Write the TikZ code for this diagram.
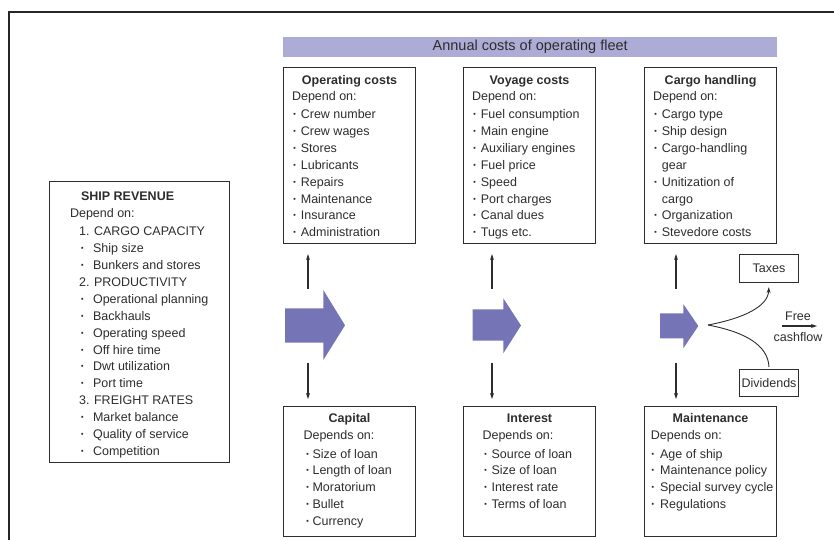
\documentclass[tikz,border=0pt]{standalone}
\usepackage{fontspec}
\setmainfont{Liberation Sans}
\usepackage{xcolor}
\usepackage{tikz}
\usetikzlibrary{positioning,arrows.meta}

\definecolor{barblue}{RGB}{172,172,214}
\definecolor{flowblue}{RGB}{116,116,182}
\definecolor{inkgray}{RGB}{45,45,45}

\newcommand{\bitem}[3]{\hspace*{#1}\makebox[#2][l]{\textbf{·}}#3}

\tikzset{
    box/.style={draw=inkgray, line width=1.1pt, inner sep=0pt, anchor=north west, text=inkgray, font=\fontsize{12.5}{16.9}\selectfont},
    conn/.style={draw=inkgray, line width=1.1pt, -{Stealth[length=6pt,width=4pt]}},
    flow/.style={fill=flowblue}
}

\begin{document}
\begin{tikzpicture}[x=1pt,y=-1pt]
    \useasboundingbox (0,0) rectangle (834,539);
    \draw[line width=2pt, black!85] (9,545) -- (9,12) -- (840,12);

    \node(fleet) [fill=barblue, anchor=north west, inner sep=0pt, minimum width=494pt, minimum height=20pt, text=inkgray, font=\fontsize{14.5}{17}\selectfont] at (283,37) {Annual costs of operating fleet};

    \node(revenue) [box] at (48.5,181) {\parbox[t][281pt][t]{180pt}{\raggedright
        \hspace*{32pt}\rule{0pt}{18.5pt}\textbf{SHIP REVENUE}\\[0.4pt]
        \hspace*{21pt}Depend on:\\[1.5pt]
        \hspace*{30pt}1. CARGO CAPACITY\\
        \bitem{31.6pt}{12.4pt}{Ship size}\\
        \bitem{31.6pt}{12.4pt}{Bunkers and stores}\\
        \hspace*{30pt}2. PRODUCTIVITY\\
        \bitem{31.6pt}{12.4pt}{Operational planning}\\
        \bitem{31.6pt}{12.4pt}{Backhauls}\\
        \bitem{31.6pt}{12.4pt}{Operating speed}\\
        \bitem{31.6pt}{12.4pt}{Off hire time}\\
        \bitem{31.6pt}{12.4pt}{Dwt utilization}\\
        \bitem{31.6pt}{12.4pt}{Port time}\\
        \hspace*{30pt}3. FREIGHT RATES\\
        \bitem{31.6pt}{12.4pt}{Market balance}\\
        \bitem{31.6pt}{12.4pt}{Quality of service}\\
        \bitem{31.6pt}{12.4pt}{Competition}}};

    % costs of the fleet, top row
    \node(opcost) [box] at (283,67) {\parbox[t][176pt][t]{132pt}{
        {\centering\rule{0pt}{17pt}\textbf{Operating costs}\par}
        \vspace{-1.2pt}\raggedright
        \hspace*{8.5pt}Depend on:\\[1.4pt]
        \bitem{9.3pt}{8pt}{Crew number}\\
        \bitem{9.3pt}{8pt}{Crew wages}\\
        \bitem{9.3pt}{8pt}{Stores}\\
        \bitem{9.3pt}{8pt}{Lubricants}\\
        \bitem{9.3pt}{8pt}{Repairs}\\
        \bitem{9.3pt}{8pt}{Maintenance}\\
        \bitem{9.3pt}{8pt}{Insurance}\\
        \bitem{9.3pt}{8pt}{Administration}}};

    \node(voyage) [box] at (463,67) {\parbox[t][176pt][t]{132pt}{
        {\centering\rule{0pt}{17pt}\textbf{Voyage costs}\par}
        \vspace{-1.2pt}\raggedright
        \hspace*{8.5pt}Depend on:\\[1.4pt]
        \bitem{9.3pt}{8pt}{Fuel consumption}\\
        \bitem{9.3pt}{8pt}{Main engine}\\
        \bitem{9.3pt}{8pt}{Auxiliary engines}\\
        \bitem{9.3pt}{8pt}{Fuel price}\\
        \bitem{9.3pt}{8pt}{Speed}\\
        \bitem{9.3pt}{8pt}{Port charges}\\
        \bitem{9.3pt}{8pt}{Canal dues}\\
        \bitem{9.3pt}{8pt}{Tugs etc.}}};

    \node(handling) [box] at (644,67) {\parbox[t][176pt][t]{132pt}{
        {\centering\rule{0pt}{17pt}\textbf{Cargo handling}\par}
        \vspace{-1.2pt}\raggedright
        \hspace*{8.5pt}Depend on:\\[1.4pt]
        \bitem{9.3pt}{8pt}{Cargo type}\\
        \bitem{9.3pt}{8pt}{Ship design}\\
        \bitem{9.3pt}{8pt}{Cargo-handling}\\
        \hspace*{17.3pt}gear\\
        \bitem{9.3pt}{8pt}{Unitization of}\\
        \hspace*{17.3pt}cargo\\
        \bitem{9.3pt}{8pt}{Organization}\\
        \bitem{9.3pt}{8pt}{Stevedore costs}}};

    % bottom row
    \node(capital) [box] at (283,406) {\parbox[t][130pt][t]{132pt}{
        {\centering\rule{0pt}{16pt}\textbf{Capital}\par}
        \vspace{-0.3pt}\raggedright
        \hspace*{20pt}Depends on:\\[2pt]
        \bitem{22.2pt}{6.8pt}{Size of loan}\\
        \bitem{22.2pt}{6.8pt}{Length of loan}\\
        \bitem{22.2pt}{6.8pt}{Moratorium}\\
        \bitem{22.2pt}{6.8pt}{Bullet}\\
        \bitem{22.2pt}{6.8pt}{Currency}}};

    \node(interest) [box] at (463,406) {\parbox[t][130pt][t]{132pt}{
        {\centering\rule{0pt}{16pt}\textbf{Interest}\par}
        \vspace{-0.3pt}\raggedright
        \hspace*{19pt}Depends on:\\[2pt]
        \bitem{20.2pt}{7.8pt}{Source of loan}\\
        \bitem{20.2pt}{7.8pt}{Size of loan}\\
        \bitem{20.2pt}{7.8pt}{Interest rate}\\
        \bitem{20.2pt}{7.8pt}{Terms of loan}}};

    \node(maintenance) [box] at (644,406) {\parbox[t][130pt][t]{132pt}{
        {\centering\rule{0pt}{16pt}\textbf{Maintenance}\par}
        \vspace{-0.3pt}\raggedright
        \hspace*{6.4pt}Depends on:\\[2pt]
        \bitem{6.6pt}{9pt}{Age of ship}\\
        \bitem{6.6pt}{9pt}{Maintenance policy}\\
        \bitem{6.6pt}{9pt}{Special survey cycle}\\
        \bitem{6.6pt}{9pt}{Regulations}}};

    \node(taxes) [box, minimum width=59pt, minimum height=28pt] at (739,254) {Taxes};
    \node(dividends) [box, minimum width=59pt, minimum height=27pt] at (739,369) {Dividends};
    \node(cashflow) [text=inkgray, font=\fontsize{12.5}{16.9}\selectfont, align=center, inner sep=0pt] at (798,326.5) {Free\\[4pt]cashflow};

    % block arrows
    \fill[flow] (285,308.3) -- (323.3,308.3) -- (323.3,290) -- (345,325.3) -- (323.3,360) -- (323.3,342.7) -- (285,342.7) -- cycle;
    \fill[flow] (472.7,309.3) -- (503.3,309.3) -- (503.3,298.3) -- (521,325.5) -- (503.3,353.3) -- (503.3,340.7) -- (472.7,340.7) -- cycle;
    \fill[flow] (660,313.3) -- (683.3,313.3) -- (683.3,304) -- (698.3,326) -- (683.3,348.3) -- (683.3,338.3) -- (660,338.3) -- cycle;

    \coordinate (upA) at (308,289);
    \coordinate (upB) at (492,289);
    \coordinate (upC) at (676,289);
    \coordinate (dnA) at (308,363);
    \coordinate (dnB) at (492,363);
    \coordinate (dnC) at (676,363);
    \coordinate (fork) at (708,325);
    \coordinate (cfA) at (782,326);
    \coordinate (cfB) at (817,326);

    \draw[conn, shorten >=10pt] (upA) -- (upA |- opcost.south);
    \draw[conn, shorten >=10pt] (upB) -- (upB |- voyage.south);
    \draw[conn, shorten >=10pt] (upC) -- (upC |- handling.south);
    \draw[conn, shorten >=7pt] (dnA) -- (dnA |- capital.north);
    \draw[conn, shorten >=7pt] (dnB) -- (dnB |- interest.north);
    \draw[conn, shorten >=7pt] (dnC) -- (dnC |- maintenance.north);

    \draw[conn, line width=0.9pt, shorten >=4pt] (fork) .. controls (745,318) and (768,306) .. (taxes.south);
    \draw[draw=inkgray, line width=0.9pt, shorten <=2pt] (dividends.north) .. controls (768,345) and (745,332) .. (fork);
    \draw[conn, line width=1.6pt] (cfA) -- (cfB);
\end{tikzpicture}
\end{document}
